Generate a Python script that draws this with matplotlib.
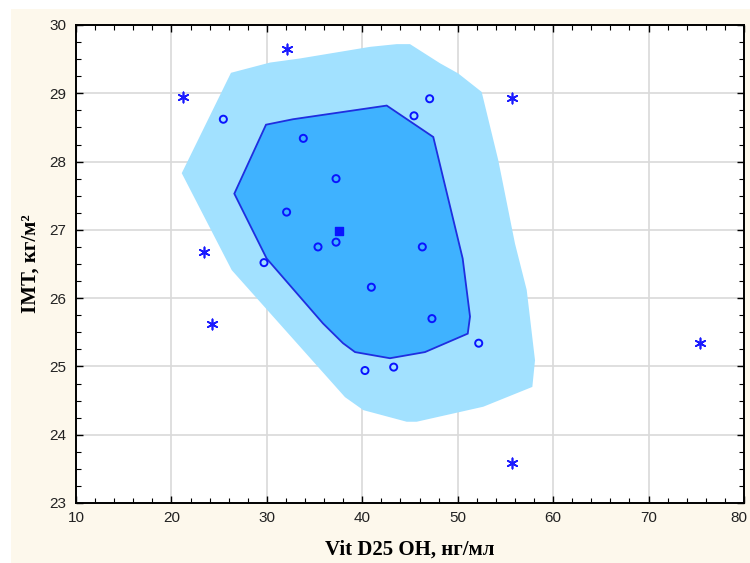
import matplotlib.pyplot as plt
from matplotlib.patches import Polygon, Rectangle
from matplotlib.ticker import MultipleLocator

# outer "fence" region of the bag plot
outer_x = [26.24, 30.33, 33.47, 40.81, 43.61, 45.00, 48.14, 50.06, 52.51, 54.25, 56.00,
           57.23, 58.10, 57.82, 52.68, 45.70, 44.65, 40.11, 38.19, 26.32, 21.08]
outer_y = [29.30, 29.45, 29.51, 29.68, 29.72, 29.72, 29.44, 29.29, 29.02, 28.02, 26.80,
           26.12, 25.09, 24.70, 24.41, 24.19, 24.19, 24.36, 24.55, 26.41, 27.83]

# inner bag
bag_x = [29.91, 32.74, 42.56, 47.44, 50.52, 51.29, 51.05, 46.57, 42.90, 39.24, 37.98,
         35.88, 29.98, 26.59]
bag_y = [28.54, 28.62, 28.82, 28.36, 26.58, 25.73, 25.48, 25.21, 25.12, 25.21, 25.34,
         25.63, 26.58, 27.53]

# points inside the fence
pts_x = [25.44, 33.82, 37.25, 32.07, 35.36, 37.25, 29.70, 47.06, 45.42, 46.29, 40.95,
         40.28, 47.30, 52.20, 43.29]
pts_y = [28.62, 28.34, 27.75, 27.26, 26.75, 26.82, 26.52, 28.92, 28.67, 26.75, 26.16,
         24.94, 25.70, 25.34, 24.99]

# outliers
out_x = [21.21, 32.11, 23.41, 24.25, 55.69, 75.39, 55.69]
out_y = [28.94, 29.65, 26.67, 25.62, 28.93, 25.34, 23.59]

# depth median
med_x = [37.56]
med_y = [26.98]

x_ticks = [10, 20, 30, 40, 50, 60, 70, 80]

plt.rcParams["font.family"] = ["Liberation Sans", "DejaVu Sans"]

fig = plt.figure(figsize=(7.5, 5.63), dpi=100)
fig.patch.set_facecolor("white")
fig.patches.append(Rectangle((11 / 750, 0), 1 - 11 / 750, (563 - 9) / 563,
                             transform=fig.transFigure, facecolor="#fdf8ec",
                             edgecolor="none", zorder=-10))

ax = fig.add_axes([76 / 750, 1 - 503 / 563, (744 - 76) / 750, (503 - 25) / 563])
ax.set_facecolor("white")

ax.add_patch(Polygon(list(zip(outer_x, outer_y)), closed=True,
                     facecolor="#a2e1ff", edgecolor="none", zorder=1))
ax.add_patch(Polygon(list(zip(bag_x, bag_y)), closed=True,
                     facecolor="#3fb2ff", edgecolor="#1f2ee0", linewidth=1.3, zorder=2))

ax.scatter(pts_x, pts_y, s=26, facecolors="none", edgecolors="#0a14ff",
           linewidths=1.4, zorder=4)
ax.scatter(out_x, out_y, s=55, marker=(6, 2, 0), color="#1a1aff",
           linewidths=1.2, zorder=4)
ax.scatter(med_x, med_y, s=38, marker="s", color="#0a14ff", zorder=5)

ax.set_xlim(10, 80)
ax.set_ylim(23, 30)
# last label is drawn separately so it can be pulled in from the figure edge
ax.set_xticks(x_ticks, [str(v) for v in x_ticks[:-1]] + [""])
ax.annotate(str(x_ticks[-1]), xy=(x_ticks[-1], 0), xycoords=("data", "axes fraction"),
            xytext=(2.5, -6), textcoords="offset points", ha="right", va="top",
            fontsize=11, color="#222222")
ax.xaxis.set_minor_locator(MultipleLocator(2))
ax.yaxis.set_major_locator(MultipleLocator(1))
ax.yaxis.set_minor_locator(MultipleLocator(0.25))
ax.grid(True, which="major", color="#d9d9d9", linewidth=1.2, zorder=0)
ax.set_axisbelow(True)

ax.tick_params(which="both", direction="in", top=True, right=True,
               labelsize=11, labelcolor="#222222")
ax.tick_params(which="major", length=5, width=1)
ax.tick_params(which="minor", length=3.5, width=0.8)
ax.tick_params(axis="x", pad=6)
ax.tick_params(axis="y", pad=7)
for s in ax.spines.values():
    s.set_linewidth(1.4)
    s.set_color("black")

ax.set_xlabel("Vit D25 OH, нг/мл", family="Liberation Serif", fontweight="bold",
              fontsize=15, labelpad=10)
ax.set_ylabel("IMT, кг/м²", family="Liberation Serif", fontweight="bold",
              fontsize=15, labelpad=6)

fig.savefig("out.png", dpi=100)
